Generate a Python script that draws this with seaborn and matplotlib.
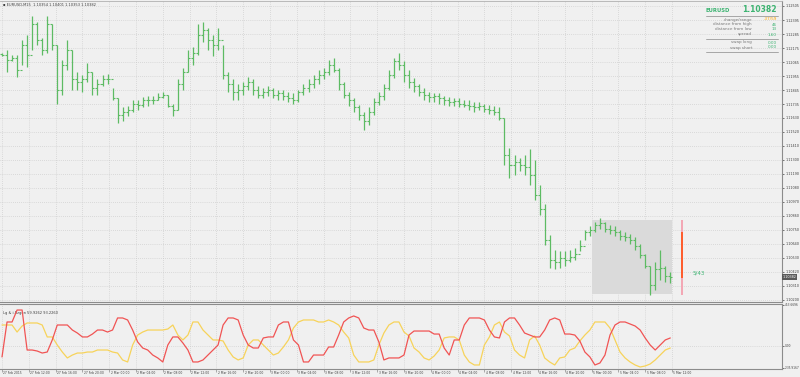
import matplotlib
matplotlib.use("Agg")
import matplotlib.pyplot as plt
import matplotlib.transforms as mtransforms
from matplotlib.lines import Line2D
import numpy as np
import pandas as pd
import seaborn as sns

# ---------------- data ----------------
bar_high = [1.1214,1.1216,1.1212,1.1212,1.1224,1.1228,1.1243,1.1238,1.1225,1.1243,
            1.1236,1.1220,1.1208,1.1224,1.1216,1.1199,1.1196,1.1206,1.1199,1.1193,
            1.1196,1.1197,1.1186,1.1178,1.1171,1.1172,1.1177,1.1177,1.1179,1.1180,
            1.1180,1.1182,1.1183,1.1181,1.1174,1.1193,1.1202,1.1216,1.1218,1.1236,
            1.1238,1.1233,1.1228,1.1233,1.1220,1.1199,1.1193,1.1189,1.1191,1.1195,
            1.1193,1.1188,1.1186,1.1188,1.1186,1.1185,1.1185,1.1183,1.1182,1.1185,
            1.1189,1.1193,1.1196,1.1200,1.1202,1.1208,1.1210,1.1202,1.1191,1.1183,
            1.1178,1.1173,1.1167,1.1171,1.1178,1.1183,1.1189,1.1200,1.1210,1.1214,
            1.1207,1.1200,1.1194,1.1189,1.1186,1.1183,1.1182,1.1182,1.1180,1.1179,
            1.1178,1.1178,1.1177,1.1177,1.1175,1.1175,1.1174,1.1173,1.1172,1.1171,
            1.1163,1.1139,1.1134,1.1131,1.1134,1.1138,1.1130,1.1110,1.1095,1.1071,
            1.1059,1.1058,1.1058,1.1059,1.1061,1.1067,1.1075,1.1078,1.1081,1.1084,
            1.1081,1.1079,1.1078,1.1075,1.1073,1.1072,1.1069,1.1064,1.1056,1.1047,
            1.1050,1.1059,1.1047,1.1042]
bar_low = [1.1211,1.1199,1.1207,1.1195,1.1204,1.1203,1.1216,1.1220,1.1212,1.1214,
           1.1216,1.1174,1.1181,1.1200,1.1185,1.1185,1.1183,1.1191,1.1181,1.1181,
           1.1188,1.1189,1.1177,1.1159,1.1160,1.1164,1.1167,1.1169,1.1171,1.1172,
           1.1174,1.1177,1.1178,1.1171,1.1164,1.1169,1.1185,1.1199,1.1204,1.1212,
           1.1222,1.1216,1.1211,1.1216,1.1193,1.1183,1.1177,1.1177,1.1181,1.1185,
           1.1181,1.1178,1.1178,1.1180,1.1178,1.1177,1.1177,1.1175,1.1174,1.1175,
           1.1181,1.1183,1.1186,1.1189,1.1193,1.1196,1.1199,1.1185,1.1178,1.1172,
           1.1167,1.1161,1.1153,1.1157,1.1165,1.1173,1.1177,1.1185,1.1194,1.1200,
           1.1191,1.1186,1.1183,1.1180,1.1177,1.1175,1.1175,1.1174,1.1173,1.1172,
           1.1172,1.1171,1.1171,1.1169,1.1167,1.1169,1.1167,1.1166,1.1165,1.1161,
           1.1126,1.1116,1.1118,1.1121,1.1118,1.1110,1.1098,1.1087,1.1063,1.1045,
           1.1044,1.1045,1.1047,1.1050,1.1051,1.1058,1.1067,1.1070,1.1073,1.1076,
           1.1073,1.1072,1.1070,1.1067,1.1066,1.1064,1.1059,1.1053,1.1045,1.1024,
           1.1028,1.1036,1.1034,1.1033]
bar_close = [1.1212,1.1208,1.1210,1.1200,1.1220,1.1212,1.1236,1.1224,1.1216,1.1236,
             1.1220,1.1185,1.1204,1.1216,1.1193,1.1191,1.1193,1.1199,1.1186,1.1189,
             1.1193,1.1193,1.1178,1.1165,1.1167,1.1169,1.1174,1.1173,1.1177,1.1177,
             1.1177,1.1179,1.1181,1.1172,1.1169,1.1189,1.1199,1.1210,1.1214,1.1228,
             1.1232,1.1224,1.1220,1.1224,1.1196,1.1189,1.1183,1.1185,1.1188,1.1191,
             1.1185,1.1181,1.1183,1.1185,1.1181,1.1182,1.1180,1.1178,1.1177,1.1183,
             1.1186,1.1189,1.1193,1.1196,1.1199,1.1204,1.1200,1.1189,1.1181,1.1177,
             1.1171,1.1165,1.1160,1.1167,1.1175,1.1180,1.1186,1.1196,1.1207,1.1204,
             1.1196,1.1191,1.1188,1.1183,1.1181,1.1179,1.1180,1.1178,1.1177,1.1175,
             1.1176,1.1174,1.1173,1.1172,1.1171,1.1172,1.1170,1.1169,1.1167,1.1163,
             1.1134,1.1126,1.1128,1.1126,1.1124,1.1118,1.1102,1.1091,1.1067,1.1051,
             1.1050,1.1053,1.1051,1.1054,1.1056,1.1062,1.1073,1.1075,1.1079,1.1080,
             1.1076,1.1075,1.1073,1.1070,1.1069,1.1067,1.1062,1.1055,1.1047,1.1032,
             1.1044,1.1045,1.1039,1.10382]
first_open = 1.1213
bar_step = 3  # each drawn bar spans 3 M15 bars

red_vals = [-120,263,263,394,394,-44,-44,-55,-77,-66,
            66,230,230,230,175,142,99,99,131,175,
            175,153,175,307,307,285,175,44,-22,-44,
            -99,-131,-175,11,99,99,33,-44,-175,-175,
            -153,-99,-44,11,230,307,307,285,120,11,
            -22,-22,88,99,99,230,263,263,66,11,
            -175,-175,-99,-99,-99,-11,-11,120,263,307,
            329,307,197,175,175,44,-153,-131,-131,-131,
            -99,120,164,164,164,164,131,131,-22,-99,
            66,66,230,307,307,307,285,175,99,88,
            263,307,307,230,142,120,99,99,175,285,
            307,285,131,131,120,55,-66,-120,-208,-186,
            -99,120,230,263,263,241,219,175,88,11,
            -44,11,66,88]
yellow_vals = [230,230,230,153,219,252,252,252,230,99,
               99,11,-66,-131,-99,-77,-77,-66,-66,-44,
               -44,-44,-66,-77,-153,-175,11,120,153,175,
               175,175,175,186,230,120,66,120,263,263,
               175,120,66,66,55,-44,-120,-153,-131,11,
               66,66,11,-44,-99,-77,-11,66,197,263,
               285,285,285,263,263,285,263,230,153,88,
               -99,-175,-175,-175,-153,11,142,230,263,263,
               153,110,-22,-66,-131,-153,-110,-44,88,99,
               99,66,-99,-175,-208,-208,11,99,230,263,
               153,110,-44,-99,-131,66,110,11,-131,-175,
               -208,-131,-120,-44,-22,55,120,175,263,263,
               263,197,66,-66,-131,-175,-208,-230,-219,-197,
               -153,-99,-44,-22]

time_labels = ["27 Feb 2015", "27 Feb 12:00", "27 Feb 16:00", "27 Feb 20:00",
               "2 Mar 00:00", "2 Mar 04:00", "2 Mar 08:00", "2 Mar 12:00",
               "2 Mar 16:00", "2 Mar 20:00", "3 Mar 00:00", "3 Mar 04:00",
               "3 Mar 08:00", "3 Mar 12:00", "3 Mar 16:00", "3 Mar 20:00",
               "4 Mar 00:00", "4 Mar 04:00", "4 Mar 08:00", "4 Mar 12:00",
               "4 Mar 16:00", "4 Mar 20:00", "5 Mar 00:00", "5 Mar 04:00",
               "5 Mar 08:00", "5 Mar 12:00"]
time_label_step = 16
price_ticks = [1.12505, 1.12395, 1.12285, 1.12175, 1.12065, 1.11955, 1.11845,
               1.11735, 1.11630, 1.11520, 1.11410, 1.11300, 1.11190, 1.11080,
               1.10970, 1.10860, 1.10750, 1.10640, 1.10530, 1.10420, 1.10310,
               1.10200]
ind_ticks = [453.6696, 0.0, -235.9167]
ind_tick_labels = ["453.6696", "0.00", "-235.9167"]

last_price = 1.10382
day_start_idx = 352
day_high = 1.10827
day_low = 1.10247
adr_idx = 406
adr_top, adr_upper, adr_lower, adr_bottom = 1.10827, 1.10733, 1.10373, 1.10239

info_labels = ["change/range", "distance from high", "distance from low", "spread"]
info_values = ["-37/59", "46", "13", "1.60"]
swap_labels = ["swap long", "swap short"]
swap_values = ["0.00", "0.00"]

# ---------------- style ----------------
sns.set_style("white")
plt.rcParams['font.family'] = ['DejaVu Sans']
BG = "#F0F0F0"
GRID = "#C4C4C4"
GREEN = "#5DBB63"
AXC = "#8C8C8C"
TXT = "#404040"

W, H = 800, 377
fig = plt.figure(figsize=(8, 3.77), dpi=100, facecolor=BG)

def fx(x):
    return x / W

def fy(y):
    return 1 - y / H

ax = fig.add_axes([0, fy(302), fx(782), (302 - 1) / H])
axi = fig.add_axes([0, fy(369), fx(782), (369 - 304) / H], sharex=ax)
for a in (ax, axi):
    a.set_facecolor(BG)
    for s in ("left", "top"):
        a.spines[s].set_visible(False)
    for s in ("right", "bottom"):
        a.spines[s].set_color(AXC)
        a.spines[s].set_linewidth(0.8)
ax.spines["top"].set_visible(True)
ax.spines["top"].set_color("#B0B0B0")
ax.spines["top"].set_linewidth(0.6)
axi.spines["top"].set_visible(True)
axi.spines["top"].set_color(AXC)
axi.spines["top"].set_linewidth(0.8)

n = len(bar_close)
idx = np.arange(n) * bar_step
opens = [first_open] + bar_close[:-1]

ax.set_xlim(-1.2, 465.7)
ax.set_ylim(1.10184, 1.12544)
axi.set_ylim(-252, 460)

# grids
time_idx = np.arange(len(time_labels)) * time_label_step
for t in time_idx:
    ax.axvline(t, color=GRID, lw=0.5, ls=(0, (1, 2)), zorder=0)
    axi.axvline(t, color=GRID, lw=0.5, ls=(0, (1, 2)), zorder=0)
for p in price_ticks:
    ax.axhline(p, color=GRID, lw=0.5, ls=(0, (1, 2)), zorder=0)
axi.axhline(0, color=GRID, lw=0.5, ls=(0, (1, 2)), zorder=0)

# day range rectangle
ax.fill_between([day_start_idx, idx[-1] + 1], day_low, day_high, color="#DADADA", lw=0, zorder=1)

# OHLC bars
ax.vlines(idx, bar_low, bar_high, color=GREEN, lw=0.9, zorder=3)
ax.hlines(opens, idx - 1.2, idx, color=GREEN, lw=0.8, zorder=3)
ax.hlines(bar_close, idx, idx + 1.2, color=GREEN, lw=0.8, zorder=3)

# ADR line
ax.vlines(adr_idx, adr_top, adr_upper, color="#F4A6B4", lw=1.4, zorder=3)
ax.vlines(adr_idx, adr_upper, adr_lower, color="#FF5A2A", lw=1.4, zorder=3)
ax.vlines(adr_idx, adr_lower, adr_bottom, color="#F4A6B4", lw=1.4, zorder=3)
ax.text(adr_idx + 6, 1.1041, "5/43", color="#3CB371", fontsize=4, va="center", ha="left")

# price axis
ax.yaxis.tick_right()
ax.set_yticks(price_ticks)
ax.set_yticklabels([f"{p:.5f}" for p in price_ticks])
ax.tick_params(axis="y", labelsize=2.4, colors=TXT, length=1.5, width=0.5, pad=1.0)
ax.tick_params(axis="x", bottom=False, labelbottom=False)
ax.set_xlabel("")
ax.set_ylabel("")
trans = mtransforms.blended_transform_factory(ax.transAxes, ax.transData)
ax.text(1.001, last_price, "1.10382", transform=trans, fontsize=2.4, color="white",
        va="center", ha="left",
        bbox=dict(boxstyle="square,pad=0.25", fc="#5A5A5A", ec="none"), zorder=6)

# indicator
df = pd.DataFrame({"idx": idx, "red": red_vals, "yellow": yellow_vals})
sns.lineplot(data=df, x="idx", y="yellow", ax=axi, color="#F7D35A", lw=0.9, zorder=3)
sns.lineplot(data=df, x="idx", y="red", ax=axi, color="#F05454", lw=0.9, zorder=4)
axi.yaxis.tick_right()
axi.set_yticks(ind_ticks)
axi.set_yticklabels(ind_tick_labels)
axi.tick_params(axis="y", labelsize=2.1, colors=TXT, length=1.5, width=0.5, pad=0.8)
for lbl in axi.get_yticklabels():
    lbl.set_verticalalignment("center_baseline")
axi.set_xticks(time_idx)
axi.tick_params(axis="x", labelbottom=False, bottom=True, length=2, width=0.5, colors=AXC)
axi.set_xlabel("")
axi.set_ylabel("")
transi = mtransforms.blended_transform_factory(axi.transData, axi.transAxes)
for t, lab in zip(time_idx, time_labels):
    axi.text(t + 0.8, -0.065, lab, transform=transi, fontsize=2.2, color=TXT,
             ha="left", va="center", clip_on=False)
axi.text(0.004, 0.86, "Lg & i-Bzgen 59.9262 93.2260", transform=axi.transAxes,
         fontsize=2.6, color=TXT, ha="left", va="center")

# title
fig.text(fx(3), fy(5), "\u25aa EURUSD,M15  1.10354 1.10401 1.10353 1.10382", fontsize=2.6,
         color=TXT, ha="left", va="center")

# info panel
fig.text(fx(706), fy(10), "EURUSD", fontsize=3.8, color="#3CB371", ha="left", va="center",
         fontweight="bold")
fig.text(fx(777), fy(10), "1.10382", fontsize=5.5, color="#3CB371", ha="right", va="center",
         fontweight="bold")
for yy in (16, 39, 52):
    fig.add_artist(Line2D([fx(706), fx(778)], [fy(yy), fy(yy)], color="#9A9A9A", lw=0.6))
val_colors = ["#FFA500", "#3CB371", "#3CB371", "#3CB371"]
for i, (lab, val) in enumerate(zip(info_labels, info_values)):
    yy = 19.5 + i * 5
    fig.text(fx(752), fy(yy), lab, fontsize=3, color="#7A7A7A", ha="right", va="center")
    fig.text(fx(777), fy(yy), val, fontsize=3, color=val_colors[i], ha="right", va="center")
for i, (lab, val) in enumerate(zip(swap_labels, swap_values)):
    yy = 42.5 + i * 5
    fig.text(fx(752), fy(yy), lab, fontsize=3, color="#7A7A7A", ha="right", va="center")
    fig.text(fx(777), fy(yy), val, fontsize=3, color="#3CB371", ha="right", va="center")

fig.savefig("out.png", dpi=100, facecolor=BG)
